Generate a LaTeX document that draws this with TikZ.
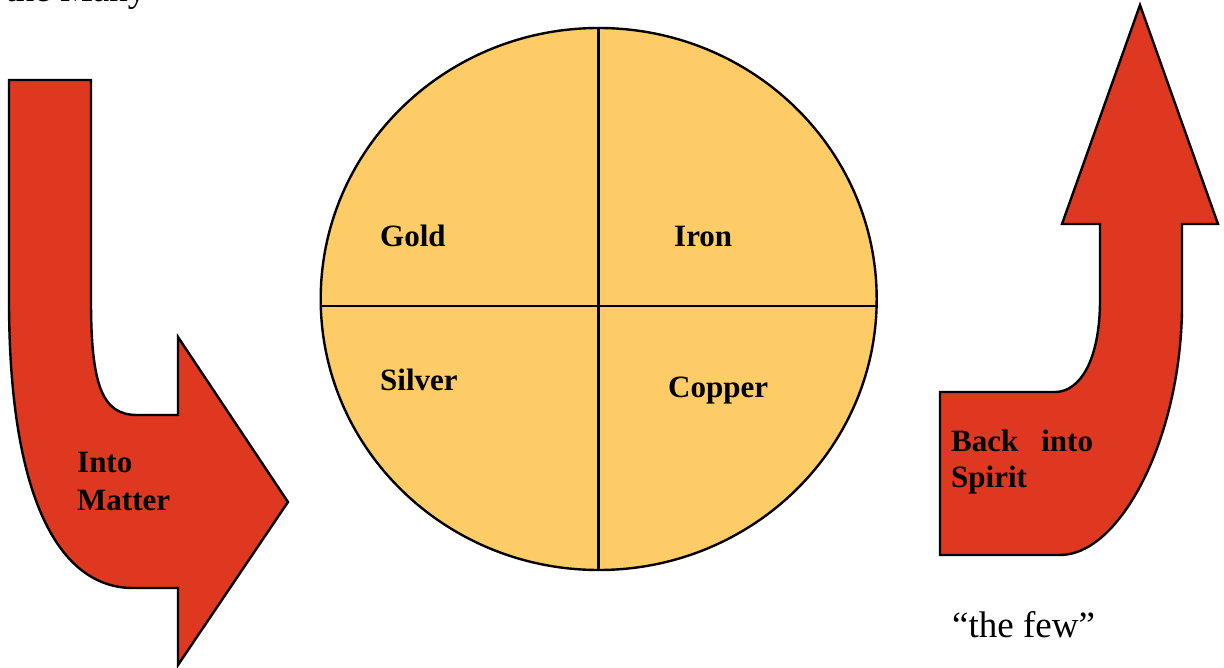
\documentclass[tikz,border=0pt]{standalone}
\usepackage{fontspec}
\setmainfont{Liberation Serif}
\definecolor{arrowred}{RGB}{222,56,32}
\definecolor{discyellow}{RGB}{254,204,102}
\begin{document}
\begin{tikzpicture}[x=1pt,y=-1pt,
  arrowshape/.style={fill=arrowred,draw=black,line width=2.4pt,line join=miter},
  boldlabel/.style={inner sep=0pt,anchor=base west,font=\fontsize{31}{38}\selectfont\bfseries},
  plainlabel/.style={inner sep=0pt,anchor=base west,font=\fontsize{37}{44}\selectfont},
  crossline/.style={draw=black,line width=2.8pt}]
\useasboundingbox (0,0) rectangle (1224,668);
\clip (0,0) rectangle (1224,668);
% top-left cut text
\node[plainlabel] (many) at (-11,1.5) {“the Many”};
% left arrow
\draw[arrowshape] (9,80) -- (91,80) -- (91,300)
  .. controls (91,385) and (102,415) .. (137,415) -- (178,415) -- (178,337)
  -- (288,502) -- (178,665) -- (178,588) -- (133,588)
  .. controls (60,588) and (9,500) .. (9,300) -- cycle;
% right arrow
\draw[arrowshape] (940,392) -- (1055,392)
  .. controls (1080,392) and (1100,360) .. (1100,300) -- (1100,224) -- (1062,224)
  -- (1140,5) -- (1218,224) -- (1182,224) -- (1182,310)
  .. controls (1180,440) and (1120,555) .. (1060,555) -- (940,555) -- cycle;
% disc
\draw[fill=discyellow,draw=black,line width=2.4pt] (598.7,299) ellipse [x radius=278pt, y radius=271pt];
\coordinate (hl) at (320.7,306);
\coordinate (hr) at (876.7,306);
\coordinate (vt) at (598.5,28.5);
\coordinate (vb) at (598.5,570);
\draw[crossline] (hl) -- (hr);
\draw[crossline] (vt) -- (vb);
% labels
\node[boldlabel] (gold) at (380,247) {Gold};
\node[boldlabel] (silver) at (380,390) {Silver};
\node[boldlabel] (iron) at (674,247) {Iron};
\node[boldlabel] (copper) at (668,397) {Copper};
\node[boldlabel] (into) at (77,472) {Into};
\node[boldlabel] (matter) at (77,510) {Matter};
\node[boldlabel] (back) at (951,451) {Back\hspace{23pt}into};
\node[boldlabel] (spirit) at (951,487) {Spirit};
\node[plainlabel] (few) at (952,637) {“the few”};
\end{tikzpicture}
\end{document}
